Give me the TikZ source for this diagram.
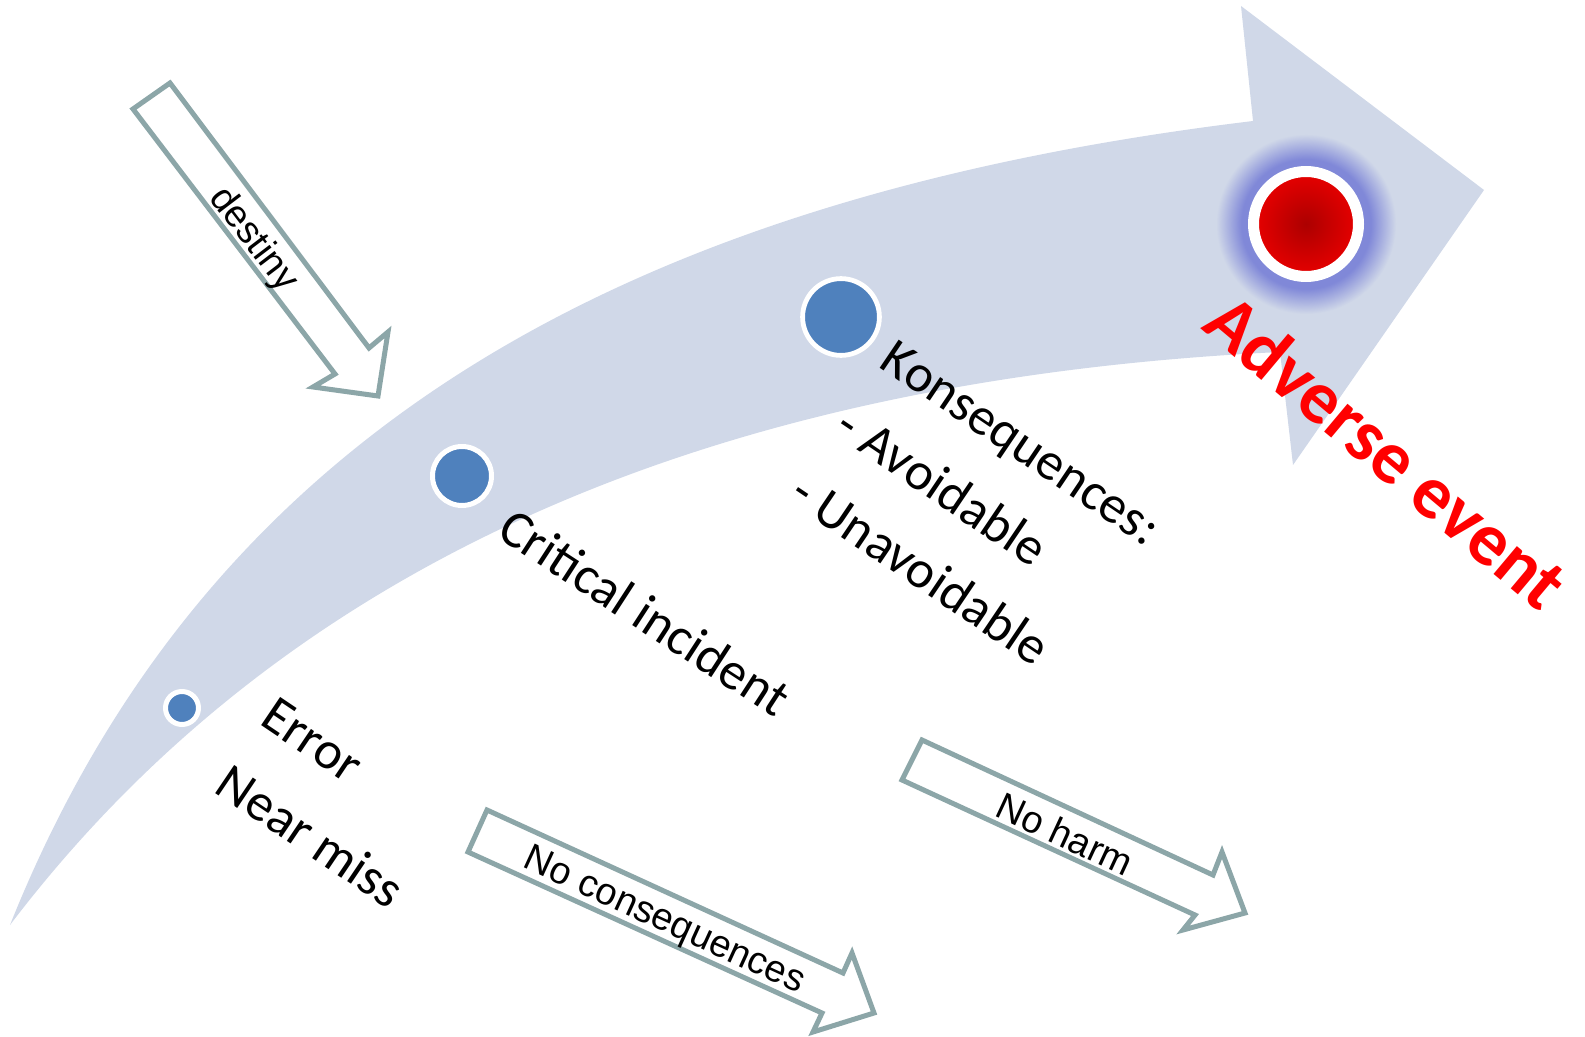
\documentclass[tikz,border=0pt]{standalone}
\usepackage{fontspec}
\setmainfont{Carlito}
\newfontfamily\arialfont{Liberation Sans}
\definecolor{arrowfill}{RGB}{208,216,232}
\definecolor{dotblue}{RGB}{79,129,189}
\definecolor{glowc}{RGB}{128,136,216}
\definecolor{redout}{RGB}{232,0,0}
\definecolor{redin}{RGB}{172,0,0}
\definecolor{redtext}{RGB}{255,0,0}
\definecolor{arrline}{RGB}{140,166,168}
\pgfdeclareradialshading{glowshade}{\pgfpointorigin}{color(0bp)=(glowc); color(18bp)=(glowc); color(25bp)=(arrowfill); color(50bp)=(arrowfill)}
\begin{document}
\begin{tikzpicture}[x=0.5pt,y=-0.5pt,
  hollow/.style={draw=arrline, line width=2.5pt, fill=white, line join=miter},
  dot/.style={circle, fill=dotblue, draw=white, line width=2.5pt, inner sep=0pt},
  lbl/.style={font=\fontsize{26.5}{40.5}\selectfont, align=left, inner sep=0pt},
  albl/.style={font=\arialfont\fontsize{19}{22}\selectfont, inner sep=0pt}]
\useasboundingbox (0,0) rectangle (1585,1037);
% big curved arrow
\fill[arrowfill] (10,925) .. controls (200,450) and (600,200) .. (1253,121)
  -- (1241,6) -- (1484,190) -- (1293,465) -- (1280,352)
  .. controls (700,380) and (280,570) .. (10,925) -- cycle;
% dots
\node[dot, minimum size=16.5pt] (d1) at (182,708) {};
\node[dot, minimum size=29.5pt] (d2) at (462,476) {};
\node[dot, minimum size=38.4pt, line width=2.4pt] (d3) at (841,317) {};
% red event with glow
\coordinate (rc) at (1306,224);
\shade[shading=glowshade] (rc) circle[radius=90];
\node[circle, draw=white, line width=5.5pt, inner sep=0pt, minimum size=52.5pt,
  inner color=redin, outer color=redout] (d4) at (rc) {};
% hollow arrows
\draw[hollow] (133,109) -- (170,83) -- (369,348) -- (388,332) -- (378,396) -- (313,387) -- (335,374) -- cycle;
\node[albl, rotate=-52.7] (destiny) at (253,240) {destiny};
\draw[hollow] (487,810) -- (468,852) -- (822,1013) -- (813,1032) -- (874,1013) -- (852,953) -- (843,973) -- cycle;
\node[albl, rotate=-24.6] (nocons) at (664,922) {No consequences};
\draw[hollow] (922,740) -- (902,780) -- (1195,915) -- (1183,930) -- (1245,913) -- (1222,852) -- (1213,875) -- cycle;
\node[albl, rotate=-24.9] (noharm) at (1065,834) {No harm};
% labels
\node[lbl, rotate=-34] (err) at (333,803) {Error\\Near miss};
\node[lbl, rotate=-33] (crit) at (645,612) {Critical incident};
\node[lbl, rotate=-34] (kons) at (976,510) {Konsequences:\\- Avoidable\\- Unavoidable};
\node[font=\bfseries\fontsize{37.5}{40}\selectfont, text=redtext, inner sep=0pt, rotate=-40] (adv) at (1387,451) {Adverse event};
\end{tikzpicture}
\end{document}
